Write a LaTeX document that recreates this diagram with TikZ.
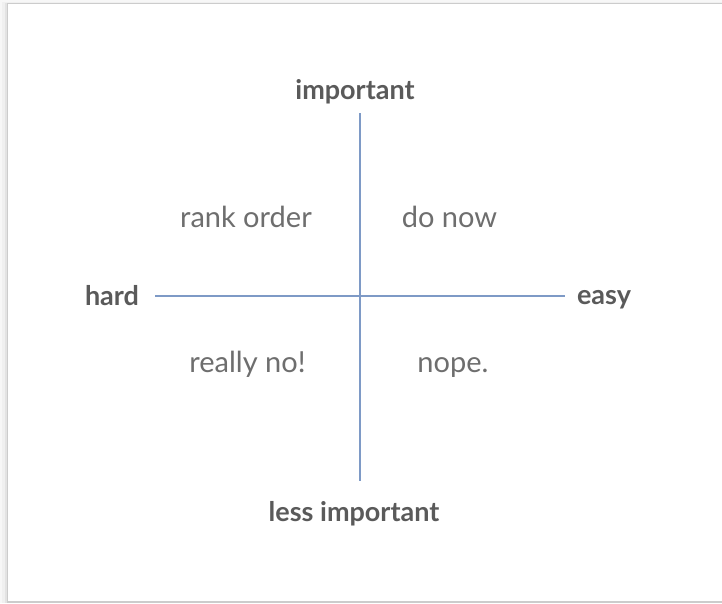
\documentclass[tikz,border=0pt]{standalone}
\usepackage{fontspec}
\setmainfont{Lato}
\definecolor{axisblue}{HTML}{7E9AC6}
\definecolor{txtgrey}{HTML}{6E6E6E}
\definecolor{boldgrey}{HTML}{5A5A5A}
\begin{document}
\begin{tikzpicture}[x=1pt,y=-1pt,
  axis/.style={draw=axisblue,line width=2.3pt},
  axislabel/.style={text=boldgrey,font=\fontsize{27}{30}\selectfont\bfseries,inner sep=0pt,anchor=base},
  quadlabel/.style={text=txtgrey,font=\fontsize{29}{32}\selectfont,inner sep=0pt,anchor=base}]
\useasboundingbox (0,0) rectangle (722,603);
% card shadow
\fill[black!3] (0,0) rectangle (722,603);
\fill[black!6] (2,1.5) rectangle (722,603);
\fill[black!11] (4.5,2.5) rectangle (722,603);
\fill[black!20] (6.5,3.3) rectangle (722,603);
\fill[white] (8,4) rectangle (722,600.5);
% axes endpoints
\coordinate (top) at (360,113);
\coordinate (bot) at (360,481);
\coordinate (left) at (155,296);
\coordinate (right) at (565,296);
\draw[axis] (top) -- (bot);
\draw[axis] (left) -- (right);
% axis labels
\node[axislabel] (imp) at (355,99) {important};
\node[axislabel] (less) at (354,521) {less important};
\node[axislabel] (hard) at (112,305) {hard};
\node[axislabel] (easy) at (604,304) {easy};
% quadrant labels
\node[quadlabel] (rank) at (246,227) {rank order};
\node[quadlabel] (donow) at (449.5,227) {do now};
\node[quadlabel] (really) at (247.5,372) {really no!};
\node[quadlabel] (nope) at (453,372) {nope.};
\end{tikzpicture}
\end{document}
